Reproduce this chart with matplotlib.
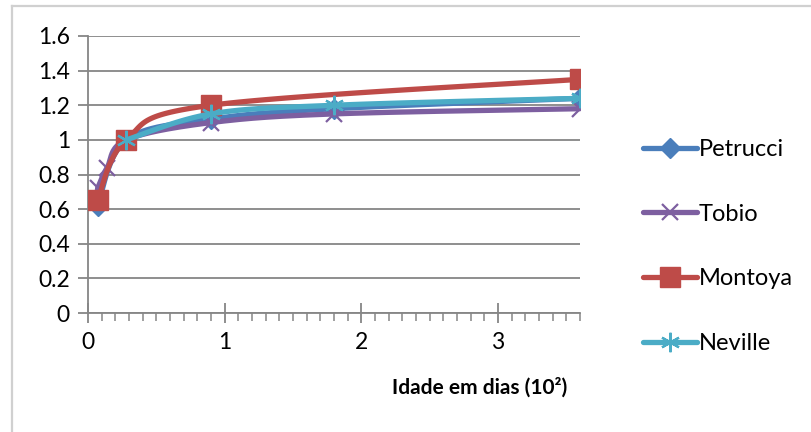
import numpy as np
import matplotlib.pyplot as plt
from matplotlib.lines import Line2D
from matplotlib.ticker import MultipleLocator

# Dados (idade em centenas de dias)
petrucci_x = [0.07, 0.28, 0.9, 1.8, 3.6]
petrucci_y = [0.62, 1.0, 1.12, 1.18, 1.24]

tobio_x = [0.07, 0.14, 0.28, 0.9, 1.8, 3.6]
tobio_y = [0.72, 0.84, 1.0, 1.1, 1.15, 1.18]

montoya_x = [0.07, 0.28, 0.9, 3.6]
montoya_y = [0.65, 1.0, 1.2, 1.35]

neville_x = [0.28, 0.9, 1.8, 3.6]
neville_y = [1.0, 1.15, 1.2, 1.24]

names = ["Petrucci", "Tobio", "Montoya", "Neville"]
colors = ["#4A7EBB", "#7D5FA0", "#BE4B48", "#4BACC6"]


def smooth(xs, ys, n=40):
    # curva suave tipo Excel (Catmull-Rom) passando pelos pontos
    p = np.column_stack([xs, ys]).astype(float)
    p = np.vstack([p[0], p, p[-1]])
    out = []
    t = np.linspace(0, 1, n)[:, None]
    for i in range(1, len(p) - 2):
        p0, p1, p2, p3 = p[i - 1], p[i], p[i + 1], p[i + 2]
        c1 = p1 + (p2 - p0) / 6
        c2 = p2 - (p3 - p1) / 6
        seg = ((1 - t) ** 3 * p1 + 3 * (1 - t) ** 2 * t * c1
               + 3 * (1 - t) * t ** 2 * c2 + t ** 3 * p2)
        out.append(seg)
    seg = np.vstack(out)
    return seg[:, 0], seg[:, 1]


plt.rcParams["font.family"] = ["Lato", "DejaVu Sans"]

fig = plt.figure(figsize=(8.11, 4.32), dpi=100)
ax = fig.add_axes([88 / 811, 1 - 313 / 432, (580 - 88) / 811, (313 - 36) / 432])

# moldura do gráfico
fig.add_artist(Line2D([12 / 811, 12 / 811], [0, 1 - 6 / 432],
                      transform=fig.transFigure, color="#D0D0D0", lw=1.6))
fig.add_artist(Line2D([12 / 811, 1], [1 - 6 / 432, 1 - 6 / 432],
                      transform=fig.transFigure, color="#D0D0D0", lw=1.6))

series = [
    (petrucci_x, petrucci_y, "D", 10, 1.0),
    (tobio_x, tobio_y, "x", 12, 1.6),
    (montoya_x, montoya_y, "s", 14, 1.0),
    (neville_x, neville_y, (6, 2, 0), 14, 1.6),
]

handles = []
for k, (xs, ys, mk, ms, mew) in enumerate(series):
    c = colors[k]
    sx, sy = smooth(xs, ys)
    ax.plot(sx, sy, color=c, lw=3.8, solid_capstyle="round", zorder=3 + k)
    ax.plot(xs, ys, ls="none", marker=mk, ms=ms, color=c, mec=c,
            mew=mew, zorder=3 + k)
    handles.append(Line2D([], [], color=c, lw=3.8, marker=mk, ms=ms,
                          mec=c, mew=mew, solid_capstyle="round"))

ax.set_xlim(0, 3.6)
ax.set_ylim(0, 1.6)
ax.xaxis.set_major_locator(MultipleLocator(1))
ax.xaxis.set_minor_locator(MultipleLocator(0.1))
ax.set_yticks(np.arange(0, 1.61, 0.2))
ax.set_yticklabels(["0", "0.2", "0.4", "0.6", "0.8", "1", "1.2", "1.4", "1.6"])

ax.grid(axis="y", color="#868686", lw=1.3)
ax.set_axisbelow(True)
for s in ["top", "right"]:
    ax.spines[s].set_visible(False)
for s in ["left", "bottom"]:
    ax.spines[s].set_color("#868686")
    ax.spines[s].set_linewidth(1.3)

ax.tick_params(axis="y", length=7, width=1.3, color="#868686",
               labelsize=16.5, pad=6)
ax.tick_params(axis="x", which="major", direction="inout", length=14,
               width=1.3, color="#868686", labelsize=16.5, pad=7)
ax.tick_params(axis="x", which="minor", direction="out", length=6,
               width=1.1, color="#868686")

ax.set_xlabel("Idade em dias (10²)", fontsize=15, fontweight="bold")
ax.xaxis.set_label_coords(0.797, -0.232)

ax.legend(handles, names, loc="center left", bbox_to_anchor=(1.085, 0.24),
          frameon=False, fontsize=17, labelspacing=1.85, handlelength=2.3,
          handletextpad=0.05)

fig.savefig("out.png", dpi=100)
